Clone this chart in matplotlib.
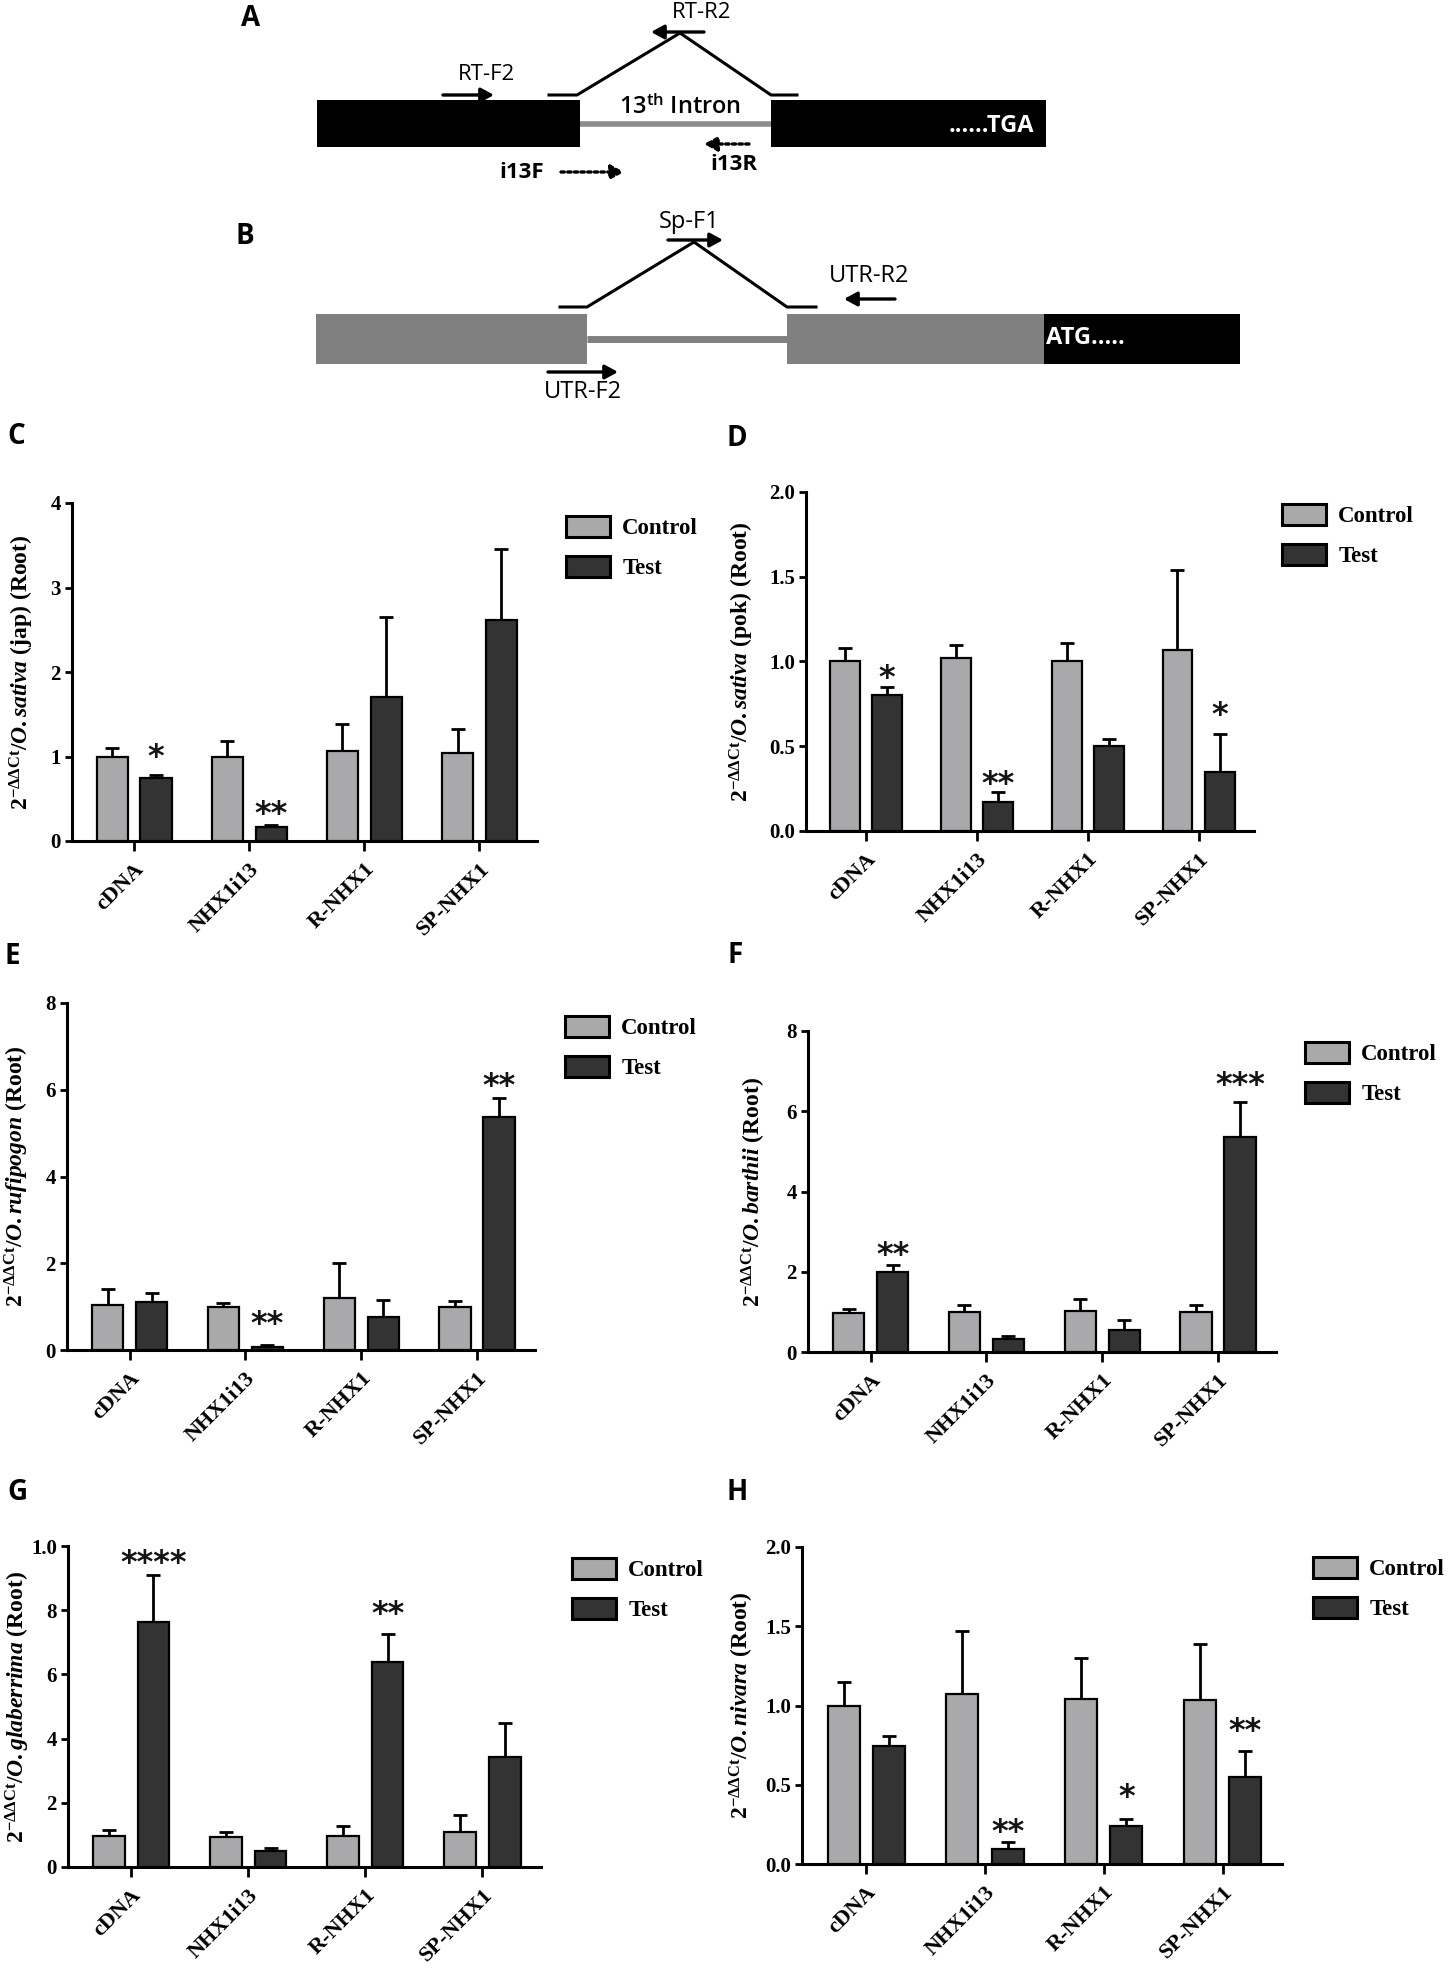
import numpy as np
import matplotlib
matplotlib.use('Agg')
import matplotlib.pyplot as plt
from matplotlib.patches import Rectangle, Patch

W, H = 1450, 1970

genes = ['cDNA', 'NHX1i13', 'R-NHX1', 'SP-NHX1']
groups = ['Control', 'Test']

# C - O.sativa (jap)
c_ctrl = [1.00, 1.00, 1.07, 1.04]
c_ctrl_err = [0.10, 0.18, 0.31, 0.28]
c_test = [0.74, 0.17, 1.70, 2.61]
c_test_err = [0.04, 0.02, 0.95, 0.85]
c_sig = ['*', '**', '', '']
c_sig_y = [1.09, 0.41, 0, 0]
c_yticks = [0, 1, 2, 3, 4]
c_yticklabels = ['0', '1', '2', '3', '4']

# D - O.sativa (pok)
d_ctrl = [1.00, 1.02, 1.00, 1.07]
d_ctrl_err = [0.08, 0.08, 0.11, 0.47]
d_test = [0.80, 0.17, 0.50, 0.35]
d_test_err = [0.05, 0.06, 0.04, 0.22]
d_sig = ['*', '**', '', '*']
d_sig_y = [0.95, 0.32, 0, 0.73]
d_yticks = [0, 0.5, 1.0, 1.5, 2.0]
d_yticklabels = ['0.0', '0.5', '1.0', '1.5', '2.0']

# E - O.rufipogon
e_ctrl = [1.04, 0.98, 1.19, 0.98]
e_ctrl_err = [0.36, 0.10, 0.81, 0.15]
e_test = [1.11, 0.08, 0.75, 5.37]
e_test_err = [0.21, 0.04, 0.40, 0.44]
e_sig = ['', '**', '', '**']
e_sig_y = [0, 0.78, 0, 6.27]
e_yticks = [0, 2, 4, 6, 8]
e_yticklabels = ['0', '2', '4', '6', '8']

# F - O.barthii
f_ctrl = [0.98, 1.00, 1.01, 1.00]
f_ctrl_err = [0.10, 0.16, 0.30, 0.16]
f_test = [2.00, 0.33, 0.56, 5.36]
f_test_err = [0.18, 0.06, 0.23, 0.88]
f_sig = ['**', '', '', '***']
f_sig_y = [2.61, 0, 0, 6.84]
f_yticks = [0, 2, 4, 6, 8]
f_yticklabels = ['0', '2', '4', '6', '8']

# G - O.glaberrima
g_ctrl = [0.98, 0.95, 0.98, 1.09]
g_ctrl_err = [0.18, 0.13, 0.29, 0.52]
g_test = [7.62, 0.49, 6.38, 3.44]
g_test_err = [1.48, 0.10, 0.88, 1.04]
g_sig = ['****', '', '**', '']
g_sig_y = [9.7, 0, 8.13, 0]
g_yticks = [0, 2, 4, 6, 8, 10]
g_yticklabels = ['0', '2', '4', '6', '8', '1.0']

# H - O.nivara
h_ctrl = [1.00, 1.07, 1.04, 1.035]
h_ctrl_err = [0.15, 0.40, 0.26, 0.35]
h_test = [0.745, 0.097, 0.24, 0.55]
h_test_err = [0.065, 0.043, 0.045, 0.16]
h_sig = ['', '**', '*', '**']
h_sig_y = [0, 0.25, 0.47, 0.89]
h_yticks = [0, 0.5, 1.0, 1.5, 2.0]
h_yticklabels = ['0.0', '0.5', '1.0', '1.5', '2.0']

plt.rcParams['font.family'] = ['Liberation Serif', 'DejaVu Serif']
plt.rcParams['font.weight'] = 'bold'
plt.rcParams['mathtext.fontset'] = 'custom'
plt.rcParams['mathtext.rm'] = 'Liberation Serif:bold'
plt.rcParams['mathtext.bf'] = 'Liberation Serif:bold'
plt.rcParams['mathtext.it'] = 'Liberation Serif:italic:bold'

CTRL_COL = '#a9a9ab'
TEST_COL = '#333333'
SANS = 'Open Sans'

fig = plt.figure(figsize=(W / 100, H / 100), dpi=100)


def px_axes(l, t, r, b):
    return fig.add_axes([l / W, 1 - b / H, (r - l) / W, (b - t) / H])


# panel: letter, letter pos, axes box (px), legend anchor (px), ylabel offset, ymax, data
panels = [
    ('C', (16, 437), (72, 503, 537, 841), (566, 516), 50, 4,
     r'$2^{-\Delta\Delta \mathrm{Ct}}/\mathit{O.sativa}$ (jap) (Root)',
     c_ctrl, c_ctrl_err, c_test, c_test_err, c_sig, c_sig_y, c_yticks, c_yticklabels),
    ('D', (737, 439), (806, 492, 1254, 831), (1282, 504), 64, 2.0,
     r'$2^{-\Delta\Delta \mathrm{Ct}}/\mathit{O.sativa}$ (pok) (Root)',
     d_ctrl, d_ctrl_err, d_test, d_test_err, d_sig, d_sig_y, d_yticks, d_yticklabels),
    ('E', (12, 956), (67, 1003, 535, 1350), (565, 1016), 50, 8,
     r'$2^{-\Delta\Delta \mathrm{Ct}}/\mathit{O.rufipogon}$ (Root)',
     e_ctrl, e_ctrl_err, e_test, e_test_err, e_sig, e_sig_y, e_yticks, e_yticklabels),
    ('F', (735, 955), (808, 1031, 1276, 1352), (1305, 1042), 54, 8,
     r'$2^{-\Delta\Delta \mathrm{Ct}}/\mathit{O.barthii}$ (Root)',
     f_ctrl, f_ctrl_err, f_test, f_test_err, f_sig, f_sig_y, f_yticks, f_yticklabels),
    ('G', (17, 1492), (68, 1546, 541, 1867), (572, 1558), 50, 10,
     r'$2^{-\Delta\Delta \mathrm{Ct}}/\mathit{O.glaberrima}$ (Root)',
     g_ctrl, g_ctrl_err, g_test, g_test_err, g_sig, g_sig_y, g_yticks, g_yticklabels),
    ('H', (737, 1492), (802, 1547, 1282, 1864), (1313, 1557), 60, 2.0,
     r'$2^{-\Delta\Delta \mathrm{Ct}}/\mathit{O.nivara}$ (Root)',
     h_ctrl, h_ctrl_err, h_test, h_test_err, h_sig, h_sig_y, h_yticks, h_yticklabels),
]

x = np.arange(len(genes))
bw = 0.27
off = 0.19

for (letter, lpos, box, leg, ylo, ymax, ylab,
     ctrl, ctrl_err, test, test_err, sig, sig_y, yt, ytl) in panels:
    ax = px_axes(*box)
    ax.bar(x - off, ctrl, bw, color=CTRL_COL, edgecolor='k', linewidth=1.6, zorder=3)
    ax.bar(x + off, test, bw, color=TEST_COL, edgecolor='k', linewidth=1.6, zorder=3)
    ax.errorbar(x - off, ctrl, yerr=[np.zeros(4), ctrl_err], fmt='none', ecolor='k',
                elinewidth=2, capsize=5, capthick=2, zorder=2)
    ax.errorbar(x + off, test, yerr=[np.zeros(4), test_err], fmt='none', ecolor='k',
                elinewidth=2, capsize=5, capthick=2, zorder=2)
    for i, (s, sy) in enumerate(zip(sig, sig_y)):
        if s:
            ax.annotate(s, xy=(x[i] + off, sy), xytext=(0, -0.52 * 23),
                        textcoords='offset points', ha='center', va='baseline',
                        fontsize=23, fontfamily='DejaVu Sans', fontweight='bold',
                        color='#141418')
    ax.set_xlim(-0.54, 3.5)
    ax.set_ylim(0, ymax)
    ax.set_yticks(yt)
    ax.set_yticklabels(ytl, fontsize=15, fontweight='bold')
    ax.set_xticks(x)
    ax.set_xticklabels(genes, fontsize=16, fontweight='bold', rotation=45,
                       ha='right', va='top', rotation_mode='anchor')
    for sp in ['top', 'right']:
        ax.spines[sp].set_visible(False)
    for sp in ['left', 'bottom']:
        ax.spines[sp].set_linewidth(2.2)
    ax.tick_params(axis='y', length=5, width=2, pad=3)
    ax.tick_params(axis='x', length=7, width=2, pad=6)
    ax.set_ylabel(ylab, fontsize=17, fontweight='bold', va='center')
    axw = box[2] - box[0]
    ax.yaxis.set_label_coords(-ylo / axw, 0.5)
    handles = [Patch(facecolor=CTRL_COL, edgecolor='k', linewidth=2.2),
               Patch(facecolor=TEST_COL, edgecolor='k', linewidth=2.2)]
    ax.legend(handles, groups, loc='upper left', bbox_to_anchor=(leg[0] / W, 1 - leg[1] / H),
              bbox_transform=fig.transFigure, frameon=False, borderpad=0, borderaxespad=0,
              handlelength=1.9, handleheight=1.0, labelspacing=0.75, handletextpad=0.55,
              prop={'family': 'Liberation Serif', 'weight': 'bold', 'size': 16.5})
    fig.text(lpos[0] / W, 1 - lpos[1] / H, letter, fontsize=20, fontfamily=SANS,
             fontweight='bold', ha='center', va='center')

# gene structure diagrams (A and B), drawn in pixel space
bg = fig.add_axes([0, 0, 1, 1], zorder=-1)
bg.set_xlim(0, W)
bg.set_ylim(H, 0)
bg.axis('off')


def arrow(x0, x1, y, dotted=False):
    bg.annotate('', xy=(x1, y), xytext=(x0, y),
                arrowprops=dict(arrowstyle='-|>,head_length=0.55,head_width=0.3',
                                lw=2.4, color='k', linestyle=(0, (1, 1)) if dotted else '-',
                                shrinkA=0, shrinkB=0, mutation_scale=14))


def label(x0, y0, s, size=16, weight='normal', color='k', ha='center'):
    bg.text(x0, y0, s, fontsize=size, fontfamily=SANS, fontweight=weight,
            color=color, ha=ha, va='center')


# A
fig.text(251 / W, 1 - 18 / H, 'A', fontsize=20, fontfamily=SANS, fontweight='bold',
         ha='center', va='center')
bg.add_patch(Rectangle((317, 100), 263, 47, facecolor='k', edgecolor='none'))
bg.add_patch(Rectangle((771, 100), 275, 47, facecolor='k', edgecolor='none'))
bg.plot([580, 771], [123.5, 123.5], color='#8c8c8c', lw=4, solid_capstyle='butt')
bg.plot([549, 577, 680, 771, 797], [95, 95, 33, 95, 95], color='k', lw=2.2)
label(680, 108, r'13$^{\mathregular{th}}$ Intron', size=17, weight='semibold')
label(1034, 126, '......TGA', size=17, weight='bold', color='white', ha='right')
arrow(704, 651, 32)
label(702, 12, 'RT-R2')
arrow(443, 494, 95)
label(487, 74, 'RT-F2')
arrow(749, 704, 144, dotted=True)
label(734, 164, 'i13R', size=16, weight='bold')
label(522, 172, 'i13F', size=16, weight='bold')
arrow(561, 624, 172, dotted=True)

# B
fig.text(245 / W, 1 - 237 / H, 'B', fontsize=20, fontfamily=SANS, fontweight='bold',
         ha='center', va='center')
bg.add_patch(Rectangle((316, 314), 271, 50, facecolor='#808080', edgecolor='none'))
bg.add_patch(Rectangle((787, 314), 257, 50, facecolor='#808080', edgecolor='none'))
bg.add_patch(Rectangle((1044, 314), 196, 50, facecolor='k', edgecolor='none'))
bg.plot([587, 787], [338.5, 338.5], color='#808080', lw=5, solid_capstyle='butt')
bg.plot([560, 587, 694, 787, 816], [307, 307, 242, 307, 307], color='k', lw=2.2)
label(1046, 338, 'ATG.....', size=17, weight='bold', color='white', ha='left')
arrow(668, 723, 240)
label(689, 222, 'Sp-F1', size=17)
arrow(895, 844, 299)
label(869, 276, 'UTR-R2', size=17)
arrow(548, 618, 372)
label(583, 392, 'UTR-F2', size=17)

fig.savefig('out.png', dpi=100, facecolor='white')
